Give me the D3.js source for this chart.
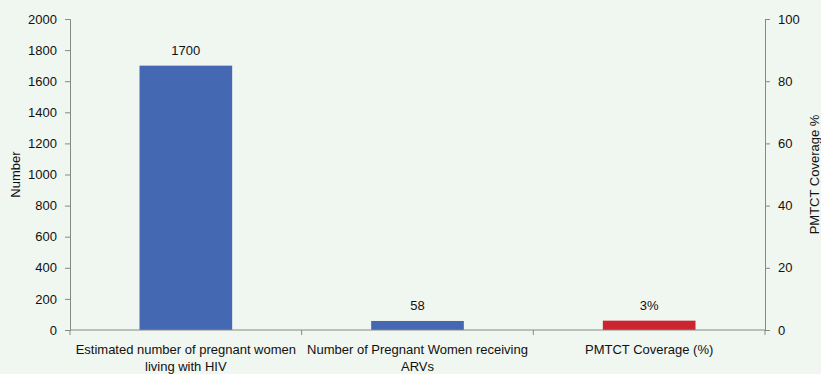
<!DOCTYPE html>
<html>
<head>
<meta charset="utf-8">
<script src="https://cdn.jsdelivr.net/npm/d3@7"></script>
<style>
  body { margin: 0; background: #f0f6f0; }
  svg { display: block; font-family: "Liberation Sans", Arial, sans-serif; }
</style>
</head>
<body>
<svg id="chart"></svg>
<script>
const categories = [
  ['Estimated number of pregnant women', 'living with HIV'],
  ['Number of Pregnant Women receiving', 'ARVs'],
  ['PMTCT Coverage (%)']
]
const values = [1700, 58, 3]
const valueLabels = ['1700', '58', '3%']
const onRightAxis = [false, false, true]
const barColors = ['#4468b1', '#4468b1', '#cb2530']
const leftTicks = [0, 200, 400, 600, 800, 1000, 1200, 1400, 1600, 1800, 2000]
const rightTicks = [0, 20, 40, 60, 80, 100]

const width = 821
const height = 374
const margin = { top: 19, right: 56, bottom: 44, left: 70 }
const d3 = window.d3
const axisColor = '#888888'

const svg = d3.select('#chart').attr('width', width).attr('height', height)

const band = d3.scaleBand()
  .domain(d3.range(categories.length))
  .range([margin.left, width - margin.right])
const yL = d3.scaleLinear().domain([0, 2000]).range([height - margin.bottom, margin.top])
const yR = d3.scaleLinear().domain([0, 100]).range([height - margin.bottom, margin.top])

// bars
svg.selectAll('.bar')
  .data(values)
  .enter().append('rect')
    .attr('class', 'bar')
    .attr('x', (d, i) => band(i) + band.bandwidth() * 0.3)
    .attr('width', band.bandwidth() * 0.4)
    .attr('y', (d, i) => (onRightAxis[i] ? yR : yL)(d))
    .attr('height', (d, i) => yL(0) - (onRightAxis[i] ? yR : yL)(d))
    .attr('fill', (d, i) => barColors[i])

svg.selectAll('.val')
  .data(values)
  .enter().append('text')
    .attr('class', 'val')
    .attr('x', (d, i) => band(i) + band.bandwidth() / 2)
    .attr('y', (d, i) => (onRightAxis[i] ? yR : yL)(d) - 11)
    .attr('text-anchor', 'middle')
    .attr('font-size', 13)
    .attr('fill', '#111')
    .text((d, i) => valueLabels[i])

// axes
function styleAxis(g) {
  g.select('.domain').attr('stroke', axisColor)
  g.selectAll('.tick line').attr('stroke', axisColor)
  g.selectAll('.tick text').attr('font-size', 13).attr('fill', '#111').attr('font-family', '"Liberation Sans", Arial, sans-serif')
}

svg.append('g')
  .attr('transform', `translate(${margin.left},0)`)
  .call(d3.axisLeft(yL).tickValues(leftTicks).tickFormat(d3.format('d')).tickSize(5).tickSizeOuter(5).tickPadding(8))
  .call(styleAxis)

svg.append('g')
  .attr('transform', `translate(${width - margin.right},0)`)
  .call(d3.axisRight(yR).tickValues(rightTicks).tickFormat(d3.format('d')).tickSize(5).tickSizeOuter(5).tickPadding(8))
  .call(styleAxis)

// x axis line with ticks at category boundaries
const xg = svg.append('g')
xg.append('line')
  .attr('x1', margin.left).attr('x2', width - margin.right)
  .attr('y1', yL(0)).attr('y2', yL(0))
  .attr('stroke', axisColor)
const bounds = d3.range(categories.length + 1).map(i => i < categories.length ? band(i) : band(i - 1) + band.bandwidth())
xg.selectAll('.xt')
  .data(bounds)
  .enter().append('line')
    .attr('x1', d => d).attr('x2', d => d)
    .attr('y1', yL(0)).attr('y2', yL(0) + 5)
    .attr('stroke', axisColor)

const lab = svg.selectAll('.cat')
  .data(categories)
  .enter().append('text')
    .attr('class', 'cat')
    .attr('text-anchor', 'middle')
    .attr('font-size', 13)
    .attr('fill', '#111')
    .attr('y', height - margin.bottom + 24)
lab.selectAll('tspan')
  .data((d, i) => d.map(t => ({ t, i })))
  .enter().append('tspan')
    .attr('x', d => band(d.i) + band.bandwidth() / 2)
    .attr('dy', (d, j) => j === 0 ? 0 : 17)
    .text(d => d.t)

// axis titles
svg.append('text')
  .attr('transform', `translate(20,${(yL(0) + yL(2000)) / 2}) rotate(-90)`)
  .attr('text-anchor', 'middle')
  .attr('font-size', 13)
  .attr('fill', '#111')
  .text('Number')

svg.append('text')
  .attr('transform', `translate(819,${(yL(0) + yL(2000)) / 2}) rotate(-90)`)
  .attr('text-anchor', 'middle')
  .attr('font-size', 13)
  .attr('fill', '#111')
  .text('PMTCT Coverage %')
</script>
</body>
</html>
